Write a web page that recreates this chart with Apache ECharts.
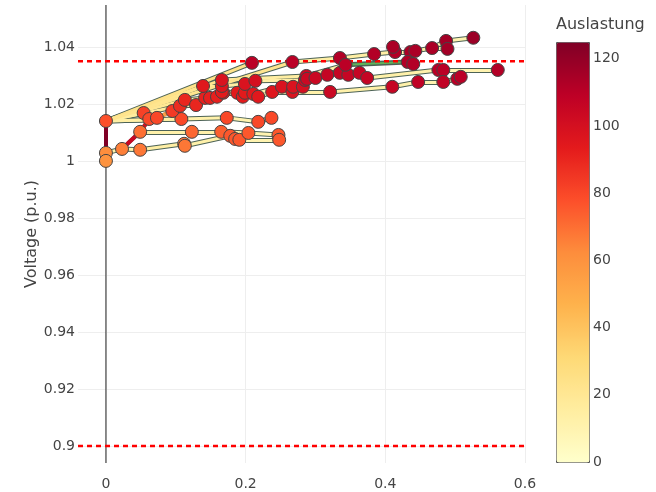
<!DOCTYPE html>
<html><head><meta charset="utf-8">
<script src="https://cdn.jsdelivr.net/npm/echarts@6/dist/echarts.min.js"></script>
<style>html,body{margin:0;padding:0;background:#fff}#c{width:656px;height:492px}</style>
</head><body><div id="c"></div>
<script>
// ---- data (distance in km-like units, voltage p.u., loading %) ----
const busDist = [0, 0, 0,
  0.023, 0.049, 0.049, 0.112, 0.113, 0.123, 0.165, 0.178, 0.185, 0.191, 0.204, 0.247, 0.248,
  0.054, 0.062, 0.073, 0.108, 0.173, 0.218, 0.237,
  0.095,
  0.106, 0.113, 0.129, 0.142, 0.149, 0.159, 0.168, 0.166, 0.188, 0.196, 0.199, 0.211, 0.218, 0.238, 0.252, 0.267, 0.268, 0.282,
  0.139, 0.166, 0.166, 0.199, 0.214,
  0.285, 0.287, 0.288, 0.300, 0.317, 0.335, 0.347, 0.363, 0.374, 0.476, 0.483, 0.561,
  0.321, 0.410, 0.447, 0.483, 0.503, 0.508,
  0.209, 0.267, 0.335, 0.384, 0.414, 0.411, 0.436, 0.443, 0.467, 0.487, 0.489, 0.526,
  0.343, 0.432, 0.440];
const busVolt = [1.0140, 1.0028, 1.0000,
  1.0042, 1.0039, 1.0102, 1.0060, 1.0053, 1.0102, 1.0102, 1.0088, 1.0077, 1.0074, 1.0098, 1.0091, 1.0074,
  1.0168, 1.0147, 1.0151, 1.0147, 1.0151, 1.0137, 1.0151,
  1.0175,
  1.0193, 1.0214, 1.0196, 1.0221, 1.0221, 1.0225, 1.0239, 1.0242, 1.0239, 1.0225, 1.0239, 1.0235, 1.0225, 1.0242, 1.0260, 1.0242, 1.0260, 1.0260,
  1.0263, 1.0263, 1.0284, 1.0270, 1.0281,
  1.0284, 1.0298, 1.0288, 1.0291, 1.0302, 1.0309, 1.0302, 1.0309, 1.0291, 1.0319, 1.0319, 1.0319,
  1.0242, 1.0260, 1.0277, 1.0277, 1.0288, 1.0295,
  1.0344, 1.0347, 1.0361, 1.0375, 1.0382, 1.0400, 1.0382, 1.0386, 1.0396, 1.0421, 1.0393, 1.0432,
  1.0337, 1.0347, 1.0340];
const busLoad = [78, 62, 60,
  66, 68, 70, 68, 68, 72, 74, 76, 76, 76, 76, 76, 76,
  82, 80, 80, 80, 80, 80, 80,
  84,
  88, 90, 90, 92, 92, 92, 94, 94, 94, 94, 94, 95, 95, 96, 98, 98, 98, 100,
  95, 96, 98, 98, 100,
  104, 104, 104, 104, 106, 106, 106, 106, 106, 110, 110, 112,
  104, 106, 108, 108, 110, 110,
  110, 110, 112, 112, 112, 114, 114, 114, 114, 116, 116, 118,
  110, 112, 112];
const lineFrom = [0, 1, 1, 3, 3, 4, 6, 7, 10, 11, 12, 5, 8, 9, 13,
  5, 17, 18, 23, 0, 0, 19, 20, 21, 0,
  0, 25, 27, 29, 31, 34, 36, 37, 39, 59, 60, 61, 62, 63,
  0, 24, 26, 28, 30, 32, 33, 35, 38, 40,
  0, 42, 43, 45, 46, 47, 49, 50, 51, 52, 53, 54, 55, 56, 57,
  0, 44, 48, 78,
  0, 0, 66, 67, 68, 69, 69, 71, 72, 73, 74, 73];
const lineTo = [1, 2, 3, 4, 5, 6, 7, 10, 11, 12, 15, 8, 9, 13, 14,
  17, 18, 23, 24, 16, 19, 20, 21, 22, 19,
  25, 27, 29, 31, 34, 36, 37, 39, 59, 60, 61, 62, 63, 64,
  24, 26, 28, 30, 32, 33, 35, 38, 40, 41,
  42, 43, 45, 46, 47, 49, 50, 51, 52, 53, 54, 55, 56, 57, 58,
  44, 48, 77, 79,
  65, 66, 67, 68, 69, 70, 71, 72, 73, 74, 76, 75];
const lineLoad = [125, 10, 12, 12, 105, 14, 12, 12, 12, 10, 10, 12, 12, 12, 10,
  100, 12, 55, 55, 16, 12, 12, 10, 10, 14,
  20, 14, 14, 14, 14, 12, 12, 12, 12, 12, 12, 10, 10, 10,
  16, 12, 12, 12, 12, 12, 12, 12, 12, 12,
  22, 15, 14, 14, 14, 12, 12, 12, 12, 12, 12, 12, 12, 10, 10,
  22, 15, 14, 10,
  24, 22, 14, 14, 14, 10, 12, 12, 12, 10, 10, 10];
const greenLine = [77, 78];          // line drawn in green (bus indices)
const voltLimits = [1.035, 0.9];
const xRange = [-0.04, 0.6];
const yRange = [0.894, 1.0547];
const xTicks = [0, 0.2, 0.4, 0.6];
const yTicks = [0.9, 0.92, 0.94, 0.96, 0.98, 1, 1.02, 1.04];
const colorTicks = [0, 20, 40, 60, 80, 100, 120];
const colorTitle = 'Auslastung';
const yTitle = 'Voltage (p.u.)';

// ---- style ----
const YLORRD = ['#ffffcc','#ffeda0','#fed976','#feb24c','#fd8d3c','#fc4e2a','#e31a1c','#bd0026','#800026'];
const LOAD_MAX = 125;
const FONT = 'DejaVu Sans';
function hex(c){return [1,3,5].map(i=>parseInt(c.substr(i,2),16));}
function loadColor(v){
  let t = Math.max(0, Math.min(1, v / LOAD_MAX)) * (YLORRD.length - 1);
  let i = Math.min(YLORRD.length - 2, Math.floor(t)), f = t - i;
  const a = hex(YLORRD[i]), b = hex(YLORRD[i + 1]);
  return 'rgb(' + a.map((x, k) => Math.round(x + (b[k] - x) * f)).join(',') + ')';
}

const segs = lineFrom.map((f, k) => ({
  coords: [[busDist[f], busVolt[f]], [busDist[lineTo[k]], busVolt[lineTo[k]]]],
  lineStyle: {color: loadColor(lineLoad[k]), width: lineLoad[k] > 50 ? 4 : 3}
}));
segs.push({coords: [[busDist[greenLine[0]], busVolt[greenLine[0]]], [busDist[greenLine[1]], busVolt[greenLine[1]]]],
  lineStyle: {color: '#5fb35a', width: 2}});
const outline = segs.map((s, k) => ({coords: s.coords,
  lineStyle: {width: (k < lineLoad.length && lineLoad[k] > 50) ? 4 : 5}}));
const points = busDist.map((d, i) => [d, busVolt[i], busLoad[i]]);

const limitSeries = voltLimits.map(v => ({
  type: 'line', xAxisIndex: 0, yAxisIndex: 0, z: 4, silent: true, symbol: 'none',
  data: [[xRange[0], v], [xRange[1], v]],
  lineStyle: {color: '#ff0000', width: 2.5, type: [5, 4]}
}));

const chart = echarts.init(document.getElementById('c'), null, {renderer: 'canvas'});
chart.setOption({
  animation: false,
  backgroundColor: '#fff',
  textStyle: {fontFamily: FONT},
  grid: [
    {left: 78, right: 131, top: 5, bottom: 29, containLabel: false},
    {left: 556, top: 42, width: 33, height: 420, show: false}
  ],
  xAxis: [
    {type: 'value', min: xRange[0], max: xRange[1], gridIndex: 0,
     axisLine: {show: false}, axisTick: {show: false, customValues: xTicks},
     axisLabel: {customValues: xTicks, fontSize: 14, color: '#444', margin: 14, fontFamily: FONT},
     splitLine: {show: true, lineStyle: {color: '#eeeeee', width: 1}}},
    {type: 'value', gridIndex: 1, show: false, min: 0, max: 1}
  ],
  yAxis: [
    {type: 'value', min: yRange[0], max: yRange[1], gridIndex: 0,
     name: yTitle, nameLocation: 'middle', nameGap: 38, nameMoveOverlap: false,
     nameTextStyle: {fontSize: 16, color: '#444', fontFamily: FONT},
     axisLine: {show: false}, axisTick: {show: false, customValues: yTicks},
     axisLabel: {customValues: yTicks, fontSize: 14, color: '#444', margin: 3, fontFamily: FONT},
     splitLine: {show: true, lineStyle: {color: '#eeeeee', width: 1}}},
    {type: 'value', gridIndex: 1, min: 0, max: LOAD_MAX, position: 'right',
     axisLine: {show: false}, axisTick: {show: false, customValues: colorTicks},
     splitLine: {show: false},
     axisLabel: {customValues: colorTicks, fontSize: 14, color: '#444', margin: 4, fontFamily: FONT}}
  ],
  visualMap: {
    type: 'continuous', min: 0, max: LOAD_MAX, dimension: 2, seriesIndex: 3,
    inRange: {color: YLORRD}, calculable: false, hoverLink: false,
    left: 556, top: 42, itemWidth: 33, itemHeight: 420, padding: 0,
    borderColor: '#555', borderWidth: 1, text: null, showLabel: false
  },
  graphic: [{type: 'text', left: 556, top: 17,
    style: {text: colorTitle, fontSize: 16, fill: '#444', fontFamily: FONT}}],
  series: [
    {type: 'lines', coordinateSystem: 'cartesian2d', xAxisIndex: 0, yAxisIndex: 0, z: 2,
     data: outline, silent: true,
     lineStyle: {color: '#4d6356', width: 5, opacity: 1}},
    {type: 'line', xAxisIndex: 0, yAxisIndex: 0, z: 1, silent: true, symbol: 'none',
     data: [[0, yRange[0]], [0, yRange[1]]],
     lineStyle: {color: '#444', width: 1.2, type: 'solid'}},
    {type: 'lines', coordinateSystem: 'cartesian2d', xAxisIndex: 0, yAxisIndex: 0, z: 3,
     data: segs, silent: true,
     lineStyle: {width: 3, opacity: 1}},
    {type: 'scatter', xAxisIndex: 0, yAxisIndex: 0, z: 5, data: points,
     symbolSize: 13,
     itemStyle: {borderColor: '#444', borderWidth: 1, opacity: 1}}
  ].concat(limitSeries)
});
</script></body></html>
